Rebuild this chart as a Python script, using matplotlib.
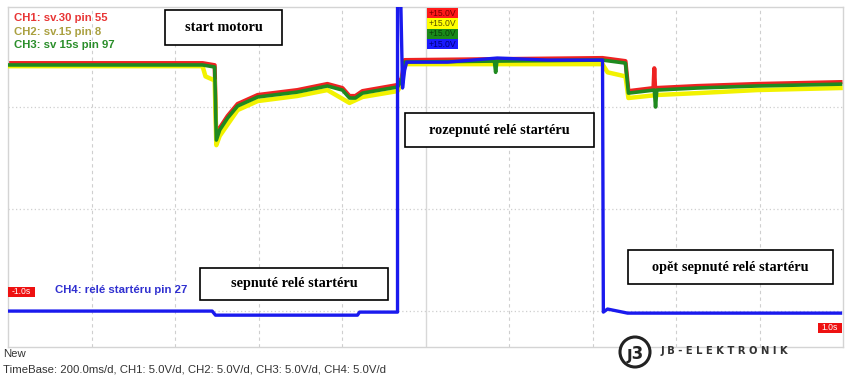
import matplotlib
matplotlib.use("Agg")
import matplotlib.pyplot as plt
from matplotlib.patches import Rectangle, Ellipse

# time in seconds (200 ms/div), voltage in volts (5 V/div)
t_ch3 = [-1.006, -0.534, -0.505, -0.501, -0.493, -0.474, -0.450, -0.402, -0.307,
         -0.235, -0.199, -0.182, -0.168, -0.151, -0.067, -0.057, -0.050, 0.165,
         0.168, 0.171, 0.424, 0.479, 0.486, 0.548, 0.551, 0.554, 0.651, 0.795, 0.994]
v_ch3 = [12.06, 12.06, 11.96, 8.38, 8.87, 9.46, 10.05, 10.49, 10.73,
         11.03, 10.83, 10.44, 10.44, 10.68, 10.98, 11.32, 12.2, 12.25,
         11.7, 12.25, 12.3, 12.15, 10.68, 10.83, 10.0, 10.83, 10.93, 11.03, 11.12]

t_ch2 = [-1.006, -0.534, -0.527, -0.505, -0.501, -0.493, -0.450, -0.402, -0.307,
         -0.235, -0.182, -0.151, -0.067, -0.057, -0.050, 0.424, 0.436, 0.479,
         0.486, 0.556, 0.651, 0.795, 0.994]
v_ch2 = [12.0, 12.0, 11.5, 11.3, 8.13, 8.58, 9.85, 10.29, 10.54,
         10.83, 10.2, 10.49, 10.78, 11.13, 12.1, 12.1, 11.7, 11.5,
         10.44, 10.59, 10.68, 10.83, 10.93]

t_ch1 = [-1.006, -0.534, -0.505, -0.501, -0.493, -0.474, -0.450, -0.402, -0.307,
         -0.235, -0.199, -0.182, -0.168, -0.151, -0.067, -0.057, -0.050, 0.424,
         0.479, 0.486, 0.546, 0.548, 0.550, 0.651, 0.795, 0.994]
v_ch1 = [12.15, 12.15, 12.05, 8.48, 8.97, 9.56, 10.15, 10.59, 10.83,
         11.13, 10.93, 10.54, 10.54, 10.78, 11.08, 11.42, 12.3, 12.4,
         12.25, 10.78, 10.93, 11.9, 10.93, 11.03, 11.13, 11.22]

t_ch4 = [-1.006, -0.511, -0.503, -0.163, -0.158, -0.067, -0.067, -0.065, -0.060,
         -0.055, -0.050, -0.045, 0.053, 0.172, 0.292, 0.424, 0.426, 0.436,
         0.484, 0.994]
v_ch4 = [0.0, 0.0, -0.2, -0.2, -0.05, -0.05, 16.0, 16.0, 16.0,
         10.93, 11.8, 12.2, 12.2, 12.4, 12.3, 12.3, -0.05, 0.1,
         -0.1, -0.1]

timebase = "TimeBase: 200.0ms/d, CH1: 5.0V/d, CH2: 5.0V/d, CH3: 5.0V/d, CH4: 5.0V/d"

W, H = 850, 384
fig = plt.figure(figsize=(W / 100, H / 100), dpi=100)
fig.patch.set_facecolor("white")


def fx(px):
    return px / W


def fy(py):
    return 1 - py / H


ax = fig.add_axes([fx(8), fy(347), (843 - 8) / W, 340 / H])
ax.set_xlim(-1.0, 1.0)
ax.set_ylim(-1.76, 14.9)
ax.set_xticks([])
ax.set_yticks([])
for s in ax.spines.values():
    s.set_color("#d4d4d4")
    s.set_linewidth(1.0)

for i in range(1, 10):
    xv = -1.0 + 0.2 * i
    if i == 5:
        ax.axvline(xv, color="#d8d8d8", lw=1.0, zorder=0)
    else:
        ax.axvline(xv, color="#cfcfcf", lw=0.8, ls=(0, (3, 3)), zorder=0)
for yv in [0, 5, 10]:
    ax.axhline(yv, color="#cfcfcf", lw=0.9, ls=(0, (1, 2)), zorder=0)

ax.plot(t_ch1, v_ch1, color="#ee2222", lw=3.0, zorder=2)
ax.plot(t_ch2, v_ch2, color="#f2f200", lw=3.2, zorder=3)
ax.plot(t_ch3, v_ch3, color="#1f8a1f", lw=2.6, zorder=4)
ax.plot(t_ch4, v_ch4, color="#1a1aee", lw=2.4, zorder=5)

# channel labels
lab = dict(fontsize=8.2, fontweight="bold", family="Liberation Sans", va="center", ha="left")
fig.text(fx(14), fy(18), "CH1: sv.30 pin 55", color="#e83535", **lab)
fig.text(fx(14), fy(32), "CH2: sv.15 pin 8", color="#aaa040", **lab)
fig.text(fx(14), fy(45), "CH3: sv 15s pin 97", color="#2a8e2a", **lab)
fig.text(fx(55), fy(290), "CH4: relé startéru pin 27", color="#3030d0", **lab)


def note(x0, y0, x1, y1, txt):
    fig.add_artist(Rectangle((fx(x0), fy(y1)), (x1 - x0) / W, (y1 - y0) / H,
                             transform=fig.transFigure, facecolor="white",
                             edgecolor="black", lw=1.2, zorder=10))
    fig.text(fx((x0 + x1) / 2), fy((y0 + y1) / 2), txt, ha="center", va="center",
             fontsize=10.3, fontweight="bold", family="Liberation Serif", zorder=11)


note(165, 10, 282, 45, "start motoru")
note(405, 113, 594, 147, "rozepnuté relé startéru")
note(200, 268, 388, 300, "sepnuté relé startéru")
note(628, 250, 833, 284, "opět sepnuté relé startéru")

# +15.0V channel markers
marks = [("#ff1a1a", "#7a0000"), ("#ffff00", "#5a5000"),
         ("#1a8a1a", "#0a400a"), ("#1a1aff", "#00007a")]
for i, (bg, fg) in enumerate(marks):
    y0 = 8 + i * 10.3
    fig.add_artist(Rectangle((fx(427), fy(y0 + 10.3)), 31 / W, 10.3 / H,
                             transform=fig.transFigure, facecolor=bg,
                             edgecolor="none", zorder=10))
    fig.text(fx(442.5), fy(y0 + 5.2), "+15.0V", color=fg, ha="center", va="center",
             fontsize=6.2, family="Liberation Sans", zorder=11)

# time markers
for x0, y0, w, txt in [(8, 287, 27, "-1.0s"), (818, 323, 24, "1.0s")]:
    fig.add_artist(Rectangle((fx(x0), fy(y0 + 10)), w / W, 10 / H,
                             transform=fig.transFigure, facecolor="#ee1111",
                             edgecolor="none", zorder=10))
    fig.text(fx(x0 + w / 2), fy(y0 + 5), txt, color="white", ha="center", va="center",
             fontsize=6.2, family="Liberation Sans", zorder=11)

# footer
fig.text(fx(3), fy(354), "New", color="#333333", fontsize=8.2,
         family="Liberation Sans", ha="left", va="center")
fig.text(fx(3), fy(370), timebase, color="#333333", fontsize=8.2,
         family="Liberation Sans", ha="left", va="center")

# logo
fig.add_artist(Ellipse((fx(635), fy(352)), 30 / W, 30 / H, transform=fig.transFigure,
                       facecolor="white", edgecolor="#222222", lw=2.2, zorder=10))
fig.text(fx(635), fy(354), "ȷ3", ha="center", va="center", fontsize=12,
         fontweight="bold", color="#222222", zorder=11)
fig.text(fx(660), fy(351), "J B - E L E K T R O N I K", ha="left", va="center",
         fontsize=7.2, fontweight="bold", color="#333333", family="DejaVu Sans")

fig.savefig("out.png", dpi=100, facecolor="white")
